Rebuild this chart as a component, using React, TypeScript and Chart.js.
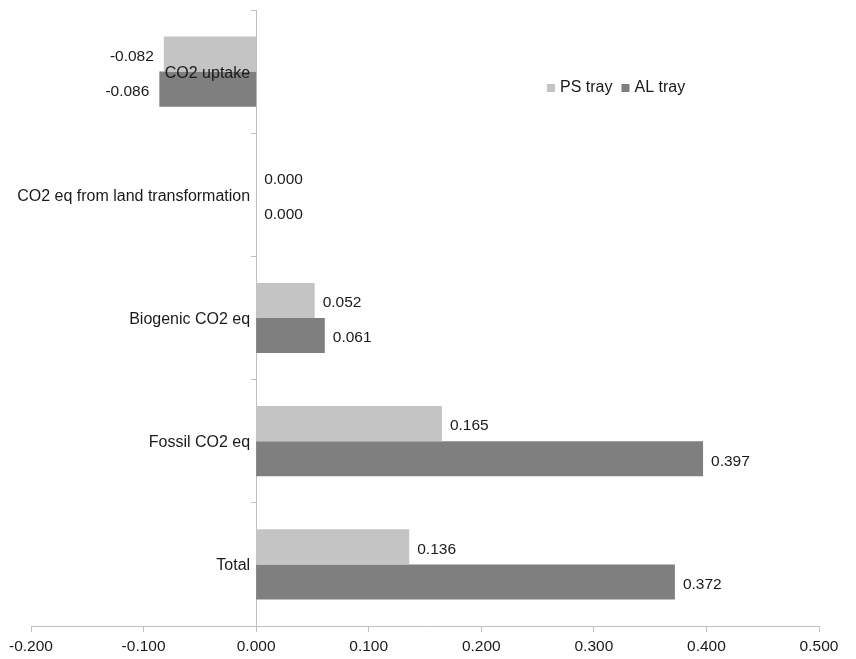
import React, { useEffect, useRef } from "react";
import { Chart, registerables } from "chart.js";

Chart.register(...registerables);

const categories = [
  "CO2 uptake",
  "CO2 eq from land transformation",
  "Biogenic CO2 eq",
  "Fossil CO2 eq",
  "Total",
];
const psTray = [-0.082, 0.0, 0.052, 0.165, 0.136];
const alTray = [-0.086, 0.0, 0.061, 0.397, 0.372];
const seriesNames = ["PS tray", "AL tray"];
const seriesColors = ["#c4c4c4", "#7f7f7f"];
const xMin = -0.2;
const xMax = 0.5;
const xStep = 0.1;

const FONT = "Liberation Sans, Arial, Helvetica, sans-serif";
const FONT_SIZE = 15.5;
const CAT_FONT_SIZE = 16;
const TEXT = "#1a1a1a";
const AXIS = "#bfbfbf";

const fmt = (v: number) => {
  const r = Math.round(v * 1000) / 1000;
  return (Math.abs(r) < 1e-9 ? 0 : r).toFixed(3);
};

// Category names drawn just left of the zero line, above the bars
const categoryLabels = {
  id: "categoryLabels",
  afterDatasetsDraw(chart: any) {
    const ctx = chart.ctx;
    const xs = chart.scales.x;
    const ys = chart.scales.y;
    const x0 = xs.getPixelForValue(0) - 6;
    ctx.save();
    ctx.font = `${CAT_FONT_SIZE}px ${FONT}`;
    ctx.fillStyle = TEXT;
    ctx.textAlign = "right";
    ctx.textBaseline = "middle";
    chart.data.labels.forEach((lbl: string, i: number) => {
      ctx.fillText(lbl, x0, ys.getPixelForTick(i) + 1.5);
    });
    ctx.restore();
  },
};

// Value labels next to each bar end
const valueLabels = {
  id: "valueLabels",
  afterDatasetsDraw(chart: any) {
    const ctx = chart.ctx;
    ctx.save();
    ctx.font = `${FONT_SIZE}px ${FONT}`;
    ctx.fillStyle = TEXT;
    ctx.textBaseline = "middle";
    chart.data.datasets.forEach((ds: any, di: number) => {
      const meta = chart.getDatasetMeta(di);
      meta.data.forEach((bar: any, i: number) => {
        const v = ds.data[i] as number;
        const txt = fmt(v);
        const y = bar.y + 2.5;
        if (v < 0) {
          ctx.textAlign = "right";
          ctx.fillText(txt, bar.x - 10, y);
        } else {
          ctx.textAlign = "left";
          ctx.fillText(txt, bar.x + 8, y);
        }
      });
    });
    ctx.restore();
  },
};

// Small inline legend in the upper right of the plot
const inlineLegend = {
  id: "inlineLegend",
  afterDraw(chart: any) {
    const ctx = chart.ctx;
    const box = 8;
    let x = 547;
    const y = 88;
    ctx.save();
    ctx.font = `${CAT_FONT_SIZE}px ${FONT}`;
    ctx.textBaseline = "middle";
    ctx.textAlign = "left";
    chart.data.datasets.forEach((ds: any) => {
      ctx.fillStyle = ds.backgroundColor;
      ctx.fillRect(x, y - box / 2, box, box);
      ctx.fillStyle = TEXT;
      ctx.fillText(ds.label, x + box + 5, y);
      x += box + 5 + ctx.measureText(ds.label).width + 9;
    });
    ctx.restore();
  },
};

export default function App() {
  const ref = useRef<HTMLCanvasElement | null>(null);

  useEffect(() => {
    if (!ref.current) return;
    const chart = new Chart(ref.current, {
      type: "bar",
      data: {
        labels: categories,
        datasets: [
          { label: seriesNames[0], data: psTray, backgroundColor: seriesColors[0] },
          { label: seriesNames[1], data: alTray, backgroundColor: seriesColors[1] },
        ],
      },
      options: {
        indexAxis: "y",
        responsive: false,
        animation: false,
        devicePixelRatio: 1,
        layout: { padding: { left: 31, right: 37, top: 10, bottom: 0 } },
        datasets: {
          bar: { barPercentage: 1, categoryPercentage: 0.57 },
        },
        plugins: {
          legend: { display: false },
          tooltip: { enabled: false },
        },
        scales: {
          x: {
            type: "linear",
            min: xMin,
            max: xMax,
            ticks: {
              stepSize: xStep,
              color: TEXT,
              font: { family: FONT, size: FONT_SIZE },
              padding: 5,
              maxRotation: 0,
              callback: (v: any) => fmt(Number(v)),
            },
            grid: {
              drawOnChartArea: false,
              drawTicks: true,
              tickLength: 6,
              color: AXIS,
            },
            border: { display: true, color: AXIS },
            afterFit: (scale: any) => {
              scale.height = 33;
            },
          },
          y: {
            type: "category",
            position: { x: 0 } as any,
            offset: true,
            ticks: { display: false },
            grid: {
              offset: true,
              drawOnChartArea: false,
              drawTicks: true,
              tickLength: 5,
              color: AXIS,
            },
            border: { display: true, color: AXIS },
          },
        },
      },
      plugins: [categoryLabels, valueLabels, inlineLegend],
    });
    return () => chart.destroy();
  }, []);

  return (
    <div style={{ position: "fixed", left: 0, top: 0, width: 856, height: 659, background: "#fff" }}>
      <canvas ref={ref} width={856} height={659} style={{ display: "block" }} />
    </div>
  );
}
